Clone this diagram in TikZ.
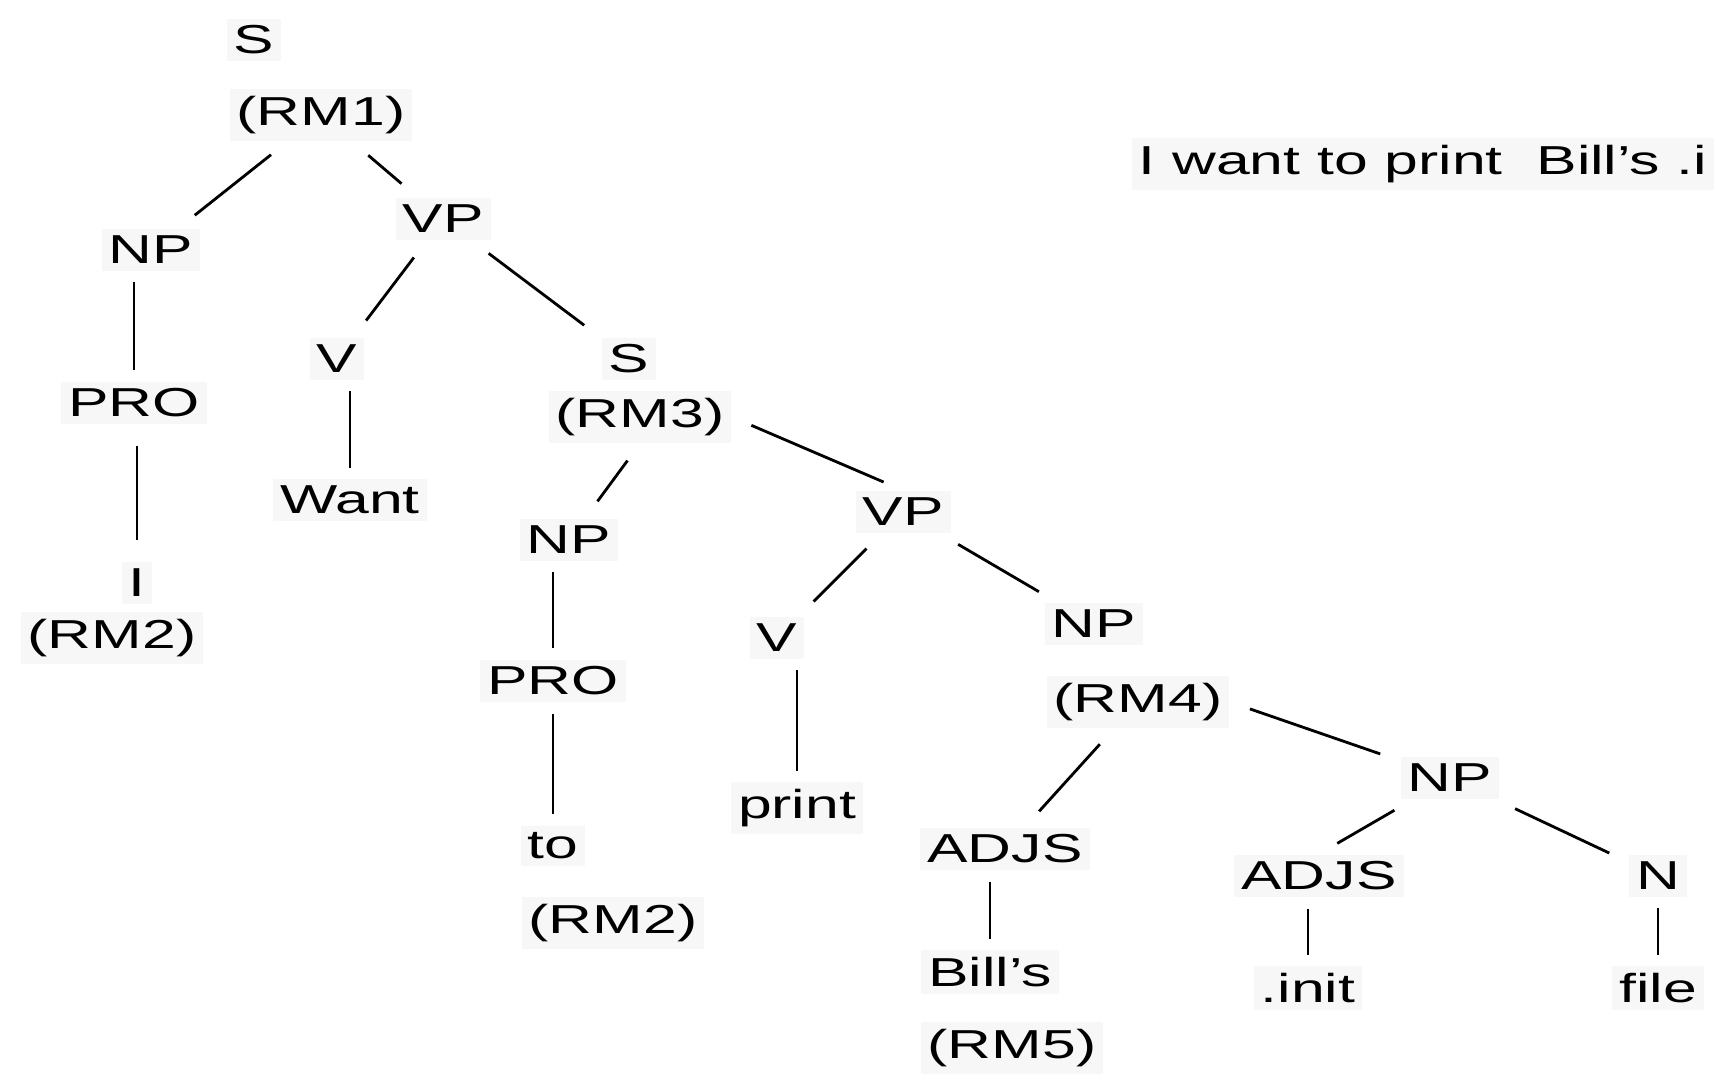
\documentclass[tikz,border=0pt]{standalone}
\usepackage{fontspec}
\setmainfont{Liberation Sans}[FakeStretch=1.5]

\begin{document}
\begin{tikzpicture}[
          x=0.01cm, y=-0.01cm,
          every node/.style={inner sep=2pt, fill=gray!6, font=\fontsize{11.5}{13}\selectfont},
          branch/.style={draw, line width=0.8pt, shorten <=6pt, shorten >=6pt},
          stem/.style={draw, line width=0.8pt, shorten <=3pt, shorten >=3pt}
        ]
        \useasboundingbox (0,0) rectangle (1716,1081);
        % 1
        \node (s1) at (254,40) {S};
        \node (rm1) at (321,115) {(RM1)};
        %2
        \node (np1) at (151,250) {NP};
        \node (vp1) at (443,219) {VP};
        \node (pro1) at (134,403) {PRO};
        \node (i1) at (137,583) {I};
        \node (rm2a) at (112,638) {(RM2)};
        \node (v1) at (337,359) {V};
        \node (want) at (350,500) {Want};
        %3
        \node (s2) at (629,359) {S};
        \node (rm3) at (640,417) {(RM3)};
        \node (np2) at (569,540) {NP};
        \node (pro2) at (553,681) {PRO};
        \node (to) at (553,846) {to};
        \node (rm2b) at (613,923) {(RM2)};
        %4
        \node (vp2) at (903,512) {VP};
        \node (v2) at (777,638) {V};
        \node (print) at (797,808) {print};
        \node (np3) at (1094,624) {NP};
        \node (rm4) at (1138,702) {(RM4)};
        %5
        \node (adjs1) at (1005,849) {ADJS};
        \node (bills) at (990,972) {Bill's};
        \node (rm5) at (1012,1048) {(RM5)};
        \node (np4) at (1450,778) {NP};
        \node (adjs2) at (1319,876) {ADJS};
        \node (init) at (1308,988) {.init};
        \node (n1) at (1658,876) {N};
        \node (file) at (1658,988) {file};
        % sentence
        \node[anchor=west] (sentence) at (1131,164) {I want to print~ Bill's .i};

        \draw[branch] (rm1) -- (np1);
        \draw[branch] (rm1) -- (vp1);
        \draw[stem] (np1.south -| pro1) -- (pro1);
        \draw[branch] (pro1.south -| i1) -- (i1);
        \draw[branch] (vp1) -- (v1);
        \draw[branch] (vp1) -- (s2);
        \draw[stem] (v1.south -| want) -- (want);
        \draw[branch] (rm3.south) -- (np2);
        \draw[branch] (rm3.east) -- (vp2.north);
        \draw[stem] (np2.south -| pro2) -- (pro2);
        \draw[stem] (pro2.south -| to) -- (to);
        \draw[branch] (vp2) -- (v2);
        \draw[branch] (vp2) -- (np3);
        \draw[stem] (v2.south -| print) -- (print);
        \draw[branch] (rm4) -- (adjs1);
        \draw[branch] (rm4.east) -- (np4);
        \draw[stem] (adjs1.south -| bills) -- (bills);
        \draw[branch] (np4) -- (adjs2.north);
        \draw[branch] (np4) -- (n1);
        \draw[stem] (adjs2.south -| init) -- (init);
        \draw[stem] (n1.south -| file) -- (file);
      \end{tikzpicture}
\end{document}
